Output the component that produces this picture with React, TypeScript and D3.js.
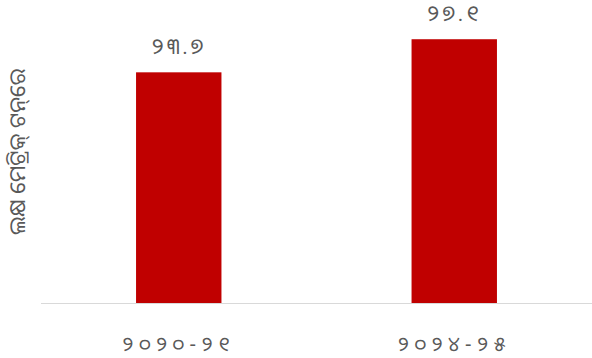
import React from "react";
import * as d3 from "d3";

const categories = ["୨୦୨୦-୨୧", "୨୦୨୪-୨୫"];
const values = [23.7, 27.1];
const valueLabels = ["୨୩.୭", "୨୭.୧"];
const yAxisTitle = "ଲକ୍ଷ ମେଟ୍ରିକ୍ ଟନ୍‌ରେ";

const W = 592;
const H = 358;
const margin = { left: 41, right: 0, top: 11, bottom: 55 };

export default function App() {
  const x = d3
    .scaleBand<string>()
    .domain(categories)
    .range([margin.left, W - margin.right])
    .paddingInner(0.69)
    .paddingOuter(0.345);
  const y = d3.scaleLinear().domain([0, 30]).range([H - margin.bottom, margin.top]);
  const font = "'Noto Sans Oriya','Noto Sans', 'DejaVu Sans', sans-serif";
  return (
    <svg
      width={W}
      height={H}
      style={{ position: "absolute", left: 0, top: 0, background: "#fff" }}
      fontFamily={font}
    >
      <line
        x1={margin.left}
        x2={W - margin.right}
        y1={y(0) + 0.5}
        y2={y(0) + 0.5}
        stroke="#d9d9d9"
        strokeWidth={1}
      />
      {categories.map((c, i) => (
        <g key={c}>
          <rect
            x={x(c)}
            y={y(values[i])}
            width={x.bandwidth()}
            height={y(0) - y(values[i])}
            fill="#c00000"
          />
          <text
            x={(x(c) as number) + x.bandwidth() / 2}
            y={y(values[i]) - 18}
            textAnchor="middle"
            fontSize={22}
            letterSpacing={3}
            fill="#595959"
          >
            {valueLabels[i]}
          </text>
          <text
            x={(x(c) as number) + x.bandwidth() / 2}
            y={351}
            textAnchor="middle"
            fontSize={20}
            letterSpacing={5.5}
            fill="#595959"
          >
            {c}
          </text>
        </g>
      ))}
      <text
        transform={`translate(25, 152) rotate(-90)`}
        textAnchor="middle"
        fontSize={22}
        fill="#595959"
      >
        {yAxisTitle}
      </text>
    </svg>
  );
}
